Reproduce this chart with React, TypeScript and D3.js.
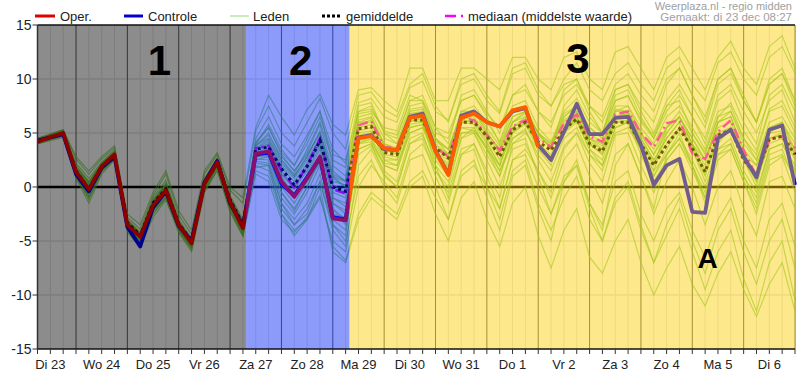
import React from 'react';
import * as d3 from 'd3';

const W = 800;
const H = 384;
const M = { left: 37.5, right: 795, top: 25, bottom: 349 };

// x axis: 6-hourly steps from Di 23 06:00 (index 0) to Wo 7 00:00 (index 59)
const dayLabels = ['Di 23', 'Wo 24', 'Do 25', 'Vr 26', 'Za 27', 'Zo 28', 'Ma 29', 'Di 30', 'Wo 31', 'Do 1', 'Vr 2', 'Za 3', 'Zo 4', 'Ma 5', 'Di 6'];
const yTicks = [15, 10, 5, 0, -5, -10, -15];
const regionBounds = [0, 16.25, 24.3, 59];
const regionNames = ['1', '2', '3'];

const oper = [4.2, 4.6, 5.0, 1.4, -0.2, 1.9, 3.0, -3.5, -4.6, -1.7, -0.3, -3.5, -5.2, 0.3, 2.3, -1.4, -3.8,
  3.1, 3.3, 0.5, -0.9, 0.8, 2.8, -2.9, -3.1,
  4.5, 4.7, 3.6, 3.4, 6.4, 6.6, 3.3, 1.1, 6.4, 6.8, 6.0, 5.6, 7.1, 7.4, 3.7];

const controle = [4.3, 4.6, 4.9, 1.2, -0.4, 1.8, 2.8, -3.7, -5.5, -1.9, -0.4, -3.6, -5.0, 0.4, 2.4, -1.5, -3.6,
  3.0, 3.2, 0.3, -0.8, 0.9, 2.7, -2.8, -3.0,
  4.6, 4.8, 3.5, 3.4, 6.5, 6.8, 3.4, 1.2, 6.6, 7.0, 6.0, 5.6, 7.0, 7.3, 3.9, 2.5, 5.1, 7.7, 4.9, 4.9, 6.4, 6.5, 3.9, 0.2, 2.0, 2.6, -2.3, -2.4, 4.5, 5.3, 2.8, 0.9, 5.3, 5.7, 0.2];

const gemiddelde = [4.2, 4.6, 4.9, 1.5, -0.2, 1.9, 2.9, -3.3, -4.5, -1.5, -0.2, -3.4, -5.0, 0.3, 2.2, -1.2, -3.5,
  3.5, 3.7, 1.7, 0.2, 1.9, 4.3, 0.0, -0.4,
  5.4, 5.6, 3.2, 3.0, 6.2, 6.2, 3.6, 2.7, 6.0, 6.0, 4.7, 2.8, 5.3, 6.0, 4.2, 3.4, 5.3, 6.3, 4.0, 3.3, 6.0, 6.0, 4.0, 2.0, 3.9, 5.4, 3.6, 1.4, 4.8, 5.3, 2.5, 1.1, 4.4, 4.7, 3.0];

const mediaan = [4.2, 4.6, 5.0, 1.4, -0.3, 1.9, 3.0, -3.4, -4.6, -1.6, -0.3, -3.5, -5.1, 0.3, 2.3, -1.3, -3.6,
  3.6, 3.8, 1.5, 0.0, 2.0, 4.5, -0.2, -0.6,
  5.7, 6.1, 3.7, 3.6, 6.4, 6.6, 3.7, 2.8, 6.4, 6.2, 4.8, 3.4, 5.6, 6.2, 4.5, 3.7, 5.9, 6.7, 4.7, 4.2, 6.7, 7.0, 5.0, 3.7, 5.9, 6.2, 3.1, 2.6, 5.1, 6.2, 3.4, 1.0, 4.4, 4.7, 3.6];

const leden: number[][] = [
  [4.3, 4.7, 5.1, 1.6, 0.2, 2.0, 3.2, -3.2, -4.4, -1.5, 0.0, -3.3, -5.0, 0.5, 2.5, -1.2, -3.5, 3.4, 4.0, 1.2, 0.0, 1.8, 4.2, 0.5, 0.2, 6.0, 6.4, 4.0, 3.6, 7.2, 7.4, 4.5, 3.0, 7.0, 7.5, 6.0, 4.2, 7.5, 8.0, 5.5, 4.2, 7.0, 8.2, 6.0, 5.0, 8.0, 8.4, 6.2, 4.8, 7.5, 8.0, 5.0, 3.2, 6.5, 7.8, 5.2, 3.4, 7.2, 8.0, 5.5],
  [4.0, 4.4, 4.8, 1.2, -0.6, 1.7, 2.8, -3.7, -4.9, -2.0, -0.6, -3.8, -5.5, 0.0, 2.0, -1.7, -4.1, 2.8, 3.0, -0.5, -2.2, 0.0, 2.5, -2.0, -3.0, 4.2, 4.4, 2.0, 1.5, 5.5, 5.8, 2.8, 1.2, 5.0, 5.2, 3.5, 1.0, 4.5, 5.4, 2.5, 0.5, 3.8, 5.0, 2.2, 0.5, 4.8, 5.0, 2.0, -0.5, 2.5, 4.0, 1.5, -1.0, 3.0, 3.5, 0.5, -2.0, 2.5, 3.0, 0.8],
  [4.4, 4.8, 5.2, 2.2, 0.8, 2.3, 3.4, -3.0, -4.2, -1.0, 0.6, -3.0, -4.8, 0.8, 2.7, -0.8, -3.0, 4.2, 5.5, 3.0, 1.5, 3.2, 5.8, 1.5, 0.5, 7.5, 7.8, 5.0, 4.0, 6.8, 6.0, 2.0, -1.0, 3.0, 3.5, 0.0, -3.0, 1.5, 2.5, -1.5, -4.0, -1.0, 1.0, -3.0, -5.0, -1.5, 0.0, -4.0, -7.0, -3.5, -1.0, -5.0, -8.0, -4.0, -2.0, -6.0, -9.0, -5.0, -3.0, -7.5],
  [4.1, 4.5, 5.0, 1.8, 0.5, 2.1, 3.1, -3.3, -4.5, -1.2, 0.3, -3.4, -5.1, 0.4, 2.4, -1.0, -3.2, 4.5, 6.5, 4.0, 2.8, 4.8, 7.0, 3.5, 2.2, 7.8, 8.2, 6.5, 6.0, 9.2, 9.8, 7.0, 6.2, 9.5, 10.0, 8.0, 6.8, 10.5, 11.0, 8.5, 7.5, 10.0, 11.5, 9.0, 8.0, 10.5, 11.5, 9.5, 8.0, 11.0, 12.0, 9.5, 8.0, 11.5, 12.5, 10.0, 8.5, 12.0, 13.0, 10.5],
  [4.2, 4.6, 4.9, 1.0, -1.0, 1.5, 2.6, -3.9, -5.2, -2.4, -1.0, -4.0, -5.7, -0.3, 1.8, -2.0, -4.4, 2.0, 1.5, -2.0, -3.5, -2.0, 0.5, -4.0, -5.5, 2.0, 3.5, 1.0, 0.0, 4.0, 4.8, 2.0, 0.5, 4.5, 5.0, 3.0, 1.0, 5.0, 5.8, 3.5, 2.0, 6.0, 7.0, 4.5, 3.5, 7.2, 7.0, 4.0, 2.0, 5.5, 6.5, 4.0, 2.5, 6.0, 6.5, 3.0, 0.5, 4.0, 4.5, 1.5],
  [4.3, 4.7, 5.0, 1.3, -0.3, 1.9, 3.1, -3.4, -4.5, -1.6, -0.2, -3.4, -5.1, 0.3, 2.3, -1.3, -3.7, 3.6, 4.2, 2.0, 0.8, 2.5, 4.6, 0.8, 0.0, 5.8, 6.2, 3.8, 3.5, 6.8, 7.0, 4.2, 3.5, 6.8, 7.0, 5.2, 3.2, 6.0, 6.8, 4.5, 3.8, 6.2, 7.0, 4.5, 3.8, 6.5, 6.5, 4.5, 2.5, 4.5, 6.0, 4.0, 1.5, 5.0, 5.5, 2.5, 1.0, 4.5, 4.8, 3.0],
  [4.0, 4.3, 4.6, 0.8, -1.5, 1.2, 2.5, -4.2, -5.6, -2.8, -1.2, -4.2, -6.0, -0.5, 1.5, -2.3, -4.6, 1.2, 0.5, -3.0, -4.2, -2.8, -0.8, -5.5, -6.8, -2.5, -0.5, -1.5, -2.5, 0.5, 1.5, -1.0, -3.0, 1.0, 2.0, 0.0, -2.0, 2.5, 3.5, 1.5, -0.5, 3.5, 5.0, 3.0, 1.5, 5.5, 6.0, 3.5, 1.5, 5.0, 6.5, 4.0, 2.0, 6.0, 7.0, 4.5, 3.0, 7.0, 7.5, 5.0],
  [4.5, 4.9, 5.3, 2.6, 1.2, 2.6, 3.6, -2.8, -3.9, -0.8, 1.2, -2.6, -4.4, 1.2, 3.0, -0.3, -1.5, 5.2, 7.5, 5.0, 3.8, 6.0, 8.2, 5.0, 3.5, 8.5, 8.8, 7.2, 6.5, 9.5, 10.5, 7.5, 6.0, 10.0, 10.5, 8.5, 7.0, 11.0, 11.5, 9.0, 7.5, 9.5, 10.0, 7.0, 5.0, 8.5, 9.0, 6.5, 4.5, 7.5, 9.0, 6.5, 4.0, 8.0, 9.0, 6.0, 4.0, 8.5, 9.5, 7.0],
  [4.2, 4.6, 5.0, 1.4, -0.1, 2.0, 3.0, -3.5, -4.7, -1.8, -0.4, -3.6, -5.3, 0.2, 2.2, -1.5, -3.9, 3.2, 3.6, 1.2, -0.2, 1.5, 3.8, -1.0, -1.8, 5.0, 5.2, 2.5, 2.5, 6.0, 6.5, 3.0, 2.2, 6.0, 5.8, 4.0, 2.0, 5.0, 6.0, 3.8, 2.8, 5.5, 6.2, 3.5, 2.5, 6.0, 6.0, 3.0, 0.5, 2.5, 4.0, 2.0, -1.5, 2.5, 3.5, 0.5, -2.5, 2.0, 2.8, -0.5],
  [4.4, 4.8, 5.2, 2.0, 0.5, 2.2, 3.3, -3.1, -4.3, -1.3, 0.2, -3.2, -4.9, 0.6, 2.6, -1.0, -3.3, 3.8, 5.0, 2.5, 1.2, 3.5, 6.0, 2.5, 1.8, 6.8, 7.0, 5.5, 5.2, 8.5, 8.0, 5.0, 4.5, 8.0, 8.5, 6.5, 4.0, 7.0, 7.5, 5.0, 3.5, 6.5, 7.5, 5.5, 4.5, 8.0, 8.5, 6.0, 4.5, 7.0, 8.5, 6.5, 4.5, 8.5, 9.5, 7.0, 5.0, 8.0, 9.0, 6.0],
  [4.1, 4.5, 4.9, 1.2, -0.5, 1.7, 2.9, -3.7, -4.8, -1.9, -0.5, -3.7, -5.4, 0.1, 2.1, -1.6, -4.0, 2.6, 2.5, -1.0, -2.5, -0.5, 2.0, -3.0, -4.0, 3.0, 3.8, 1.5, 0.5, 4.5, 5.0, 1.5, -0.5, 3.5, 4.0, 1.0, -2.0, 2.5, 3.0, 0.0, -2.5, 1.0, 2.0, -1.5, -3.5, 0.5, 1.5, -2.5, -5.0, -2.0, -0.5, -4.0, -6.5, -3.0, -1.0, -5.0, -7.5, -3.0, -1.5, -5.5],
  [4.3, 4.7, 5.1, 1.5, 0.0, 2.0, 3.1, -3.4, -4.6, -1.6, -0.1, -3.4, -5.1, 0.4, 2.4, -1.3, -3.6, 3.5, 4.0, 1.8, 0.5, 2.2, 4.5, 0.2, -0.5, 5.5, 5.8, 3.5, 3.2, 6.5, 6.5, 3.8, 3.0, 6.5, 6.2, 4.8, 3.0, 5.5, 6.5, 4.8, 3.8, 5.8, 6.5, 4.2, 3.5, 6.5, 6.8, 4.8, 3.0, 5.0, 6.5, 4.5, 2.5, 5.5, 6.0, 3.0, 2.0, 5.0, 5.2, 3.5],
  [4.2, 4.5, 4.9, 1.1, -0.8, 1.6, 2.7, -3.8, -5.0, -2.1, -0.8, -3.9, -5.6, -0.1, 1.9, -1.8, -4.2, 2.4, 2.2, -1.5, -3.0, -1.5, 1.2, -3.5, -4.5, 3.5, 4.0, 1.2, 0.0, 4.0, 4.5, 1.0, -1.5, 3.0, 4.0, 1.5, -1.0, 4.0, 4.5, 1.0, -2.5, 0.5, 2.0, -2.0, -5.0, -1.0, 0.5, -3.5, -7.0, -4.5, -2.0, -6.0, -9.5, -6.0, -4.0, -8.5, -11.5, -7.0, -5.0, -10.5],
  [4.3, 4.7, 5.1, 1.7, 0.3, 2.1, 3.2, -3.2, -4.3, -1.4, 0.1, -3.3, -5.0, 0.5, 2.4, -1.1, -3.4, 4.0, 5.8, 3.5, 2.0, 4.0, 6.5, 3.0, 2.5, 7.0, 7.5, 5.0, 4.5, 8.0, 8.5, 5.5, 4.0, 8.5, 9.0, 7.0, 5.0, 8.5, 9.5, 7.0, 5.5, 9.0, 10.0, 7.5, 6.0, 9.0, 9.5, 7.0, 5.0, 8.0, 9.5, 7.5, 5.5, 9.5, 10.5, 8.0, 6.0, 10.0, 11.0, 8.0],
  [4.2, 4.6, 5.0, 1.4, -0.2, 1.9, 3.0, -3.5, -4.6, -1.7, -0.3, -3.5, -5.2, 0.3, 2.3, -1.4, -3.8, 3.0, 3.3, 0.8, -0.6, 1.0, 3.0, -2.5, -2.8, 4.8, 5.0, 3.8, 3.6, 6.5, 6.8, 3.5, 1.5, 6.5, 7.0, 6.2, 5.5, 7.0, 7.2, 4.0, 2.5, 5.0, 6.5, 4.0, 3.0, 6.5, 6.5, 3.5, 1.0, 3.5, 5.5, 3.5, 1.0, 4.5, 5.5, 2.5, 0.5, 4.5, 5.0, 2.5],
  [4.0, 4.4, 4.7, 1.0, -1.2, 1.4, 2.6, -4.0, -5.4, -2.5, -1.0, -4.1, -5.8, -0.4, 1.6, -2.2, -4.5, 1.5, 1.0, -2.5, -4.0, -3.0, -1.0, -5.0, -6.0, 0.0, 2.0, 0.5, -1.0, 3.0, 4.0, 1.5, 0.0, 4.5, 5.5, 3.5, 2.0, 6.0, 7.0, 5.0, 3.5, 7.5, 9.0, 6.5, 5.0, 9.0, 9.5, 7.5, 6.0, 9.5, 11.0, 8.5, 6.5, 10.0, 11.0, 8.5, 6.0, 9.5, 10.5, 8.0],
  [4.4, 4.8, 5.1, 1.6, 0.1, 2.1, 3.2, -3.3, -4.4, -1.4, 0.2, -3.3, -5.0, 0.5, 2.5, -1.2, -3.5, 3.8, 4.8, 2.8, 1.5, 3.0, 5.0, 1.0, 0.0, 6.5, 6.8, 4.5, 4.0, 7.5, 7.8, 4.5, 3.5, 6.5, 7.0, 5.0, 3.5, 6.0, 6.5, 4.0, 2.5, 5.0, 6.0, 3.5, 2.0, 5.5, 6.0, 3.5, 1.0, 3.0, 4.5, 2.0, -0.5, 3.5, 4.0, 1.0, -1.5, 3.0, 3.5, 0.5],
  [4.1, 4.5, 4.8, 1.3, -0.4, 1.8, 2.9, -3.6, -4.7, -1.8, -0.4, -3.6, -5.3, 0.2, 2.2, -1.5, -3.9, 2.8, 2.8, 0.0, -1.5, 0.5, 2.2, -1.5, -2.2, 4.0, 4.5, 2.5, 2.0, 5.0, 5.5, 3.0, 2.0, 5.5, 5.5, 3.5, 1.5, 4.0, 5.0, 3.5, 2.5, 5.5, 6.5, 4.5, 4.0, 7.0, 7.5, 5.5, 4.0, 6.5, 7.5, 5.5, 3.5, 7.0, 7.5, 4.5, 2.5, 5.5, 6.0, 3.5],
  [4.3, 4.6, 5.0, 1.5, -0.1, 1.9, 3.1, -3.4, -4.5, -1.6, -0.2, -3.5, -5.1, 0.3, 2.3, -1.4, -3.7, 2.2, 2.0, -2.5, -4.5, -3.0, 0.0, -6.0, -7.0, -3.0, -1.0, -2.0, -3.0, 0.0, 1.0, -2.5, -5.0, -1.0, 0.5, -3.0, -5.5, -1.5, 0.0, -4.5, -7.5, -4.0, -2.0, -6.5, -8.0, -5.0, -3.0, -7.0, -10.0, -7.5, -5.5, -9.0, -11.0, -8.0, -6.0, -9.5, -12.0, -9.0, -7.0, -11.5],
  [4.2, 4.6, 5.0, 1.4, -0.2, 1.9, 3.0, -3.5, -4.6, -1.7, -0.3, -3.5, -5.2, 0.3, 2.3, -1.4, -3.8, 3.3, 3.8, 1.5, 0.0, 2.0, 4.0, -0.5, -1.0, 5.2, 5.5, 3.0, 2.8, 6.2, 6.0, 3.5, 2.8, 6.2, 6.0, 4.5, 2.5, 5.2, 6.0, 4.0, 3.0, 5.2, 6.2, 4.0, 3.2, 6.0, 6.2, 4.2, 2.2, 4.0, 5.5, 3.8, 1.2, 4.5, 5.2, 2.5, 1.2, 4.5, 4.8, 3.2],
  [4.5, 4.9, 5.3, 2.8, 1.5, 2.8, 3.8, -2.5, -3.5, -0.5, 1.5, -2.2, -4.0, 1.5, 3.2, 0.0, -1.0, 5.5, 8.5, 6.5, 4.8, 7.2, 8.6, 5.8, 4.8, 9.0, 9.2, 8.0, 7.0, 11.0, 11.0, 8.0, 8.0, 11.0, 11.0, 10.0, 9.0, 12.0, 12.0, 10.0, 9.0, 12.0, 12.5, 10.0, 9.0, 12.5, 13.0, 11.0, 9.0, 12.0, 13.0, 11.0, 9.0, 12.0, 13.5, 11.0, 9.5, 13.0, 14.0, 11.0],
  [4.0, 4.4, 4.8, 1.2, -0.4, 1.7, 2.8, -3.6, -4.8, -1.9, -0.5, -3.7, -5.4, 0.1, 2.1, -1.6, -4.0, 2.5, 2.8, -0.5, -2.0, 0.0, 3.0, -1.5, -2.5, 3.5, 4.0, 2.0, 1.5, 5.0, 5.5, 2.5, 1.0, 5.0, 5.0, 2.5, 0.0, 3.5, 4.0, 1.5, -1.0, 2.5, 4.0, 1.0, -1.5, 3.0, 4.0, 1.0, -2.5, 0.5, 2.5, 0.0, -3.5, 0.0, 1.5, -2.0, -4.5, 0.5, 1.0, -2.0],
  [4.3, 4.7, 5.1, 1.6, 0.0, 2.0, 3.1, -3.4, -4.5, -1.5, -0.1, -3.4, -5.1, 0.4, 2.4, -1.2, -3.6, 4.0, 5.5, 3.2, 2.0, 4.5, 7.0, 2.0, 1.0, 7.0, 7.2, 5.2, 4.8, 8.0, 8.0, 5.5, 5.0, 8.0, 8.5, 6.8, 5.5, 8.5, 9.0, 7.0, 6.0, 8.5, 9.5, 7.5, 6.5, 9.5, 10.5, 8.5, 7.0, 10.0, 11.0, 8.5, 6.0, 10.0, 11.0, 8.0, 6.0, 9.5, 10.5, 7.5],
  [4.2, 4.6, 4.9, 1.3, -0.3, 1.8, 2.9, -3.5, -4.6, -1.7, -0.3, -3.5, -5.2, 0.2, 2.2, -1.4, -3.8, 3.0, 3.5, 1.0, -1.0, 1.2, 3.5, -1.0, -1.5, 4.5, 5.0, 2.8, 2.5, 5.8, 6.0, 3.2, 2.5, 6.0, 6.2, 4.2, 2.0, 5.5, 6.2, 3.8, 2.5, 5.5, 6.5, 4.0, 3.0, 6.5, 6.8, 4.5, 2.5, 4.5, 6.0, 3.5, 0.5, 3.5, 4.5, 1.5, -0.5, 3.5, 4.0, 1.5],
  [4.4, 4.8, 5.2, 1.9, 0.4, 2.2, 3.3, -3.2, -4.3, -1.3, 0.3, -3.2, -4.9, 0.6, 2.6, -1.0, -3.3, 3.9, 4.5, 2.5, 1.0, 2.8, 5.2, 1.0, 0.5, 6.2, 6.5, 4.0, 3.5, 7.0, 7.2, 4.5, 3.5, 7.0, 7.0, 5.5, 3.8, 6.5, 7.0, 5.0, 4.0, 6.5, 7.5, 5.5, 4.5, 7.5, 7.5, 5.0, 3.0, 5.5, 7.0, 5.0, 3.0, 6.5, 7.0, 4.0, 2.5, 6.0, 6.5, 4.5],
  [4.1, 4.5, 4.9, 1.0, -0.9, 1.5, 2.7, -3.8, -5.0, -2.2, -0.9, -3.9, -5.6, -0.2, 1.8, -1.9, -4.3, 1.8, 2.0, -1.5, -3.5, -2.5, 0.5, -3.5, -5.0, 1.0, 2.5, 0.0, -1.5, 2.5, 3.0, 0.0, -3.0, 1.5, 2.5, -1.0, -4.0, 1.0, 2.0, -2.0, -5.0, 0.5, 2.5, -1.5, -4.0, 2.0, 4.0, 1.0, -2.0, 3.0, 5.0, 2.0, -1.0, 4.0, 5.5, 2.5, 0.0, 5.0, 6.0, 3.0],
  [4.3, 4.7, 5.0, 1.4, -0.1, 2.0, 3.0, -3.4, -4.6, -1.6, -0.2, -3.4, -5.1, 0.3, 2.3, -1.3, -3.7, 3.6, 4.4, 2.2, 1.0, 2.8, 5.0, 1.2, 0.6, 6.0, 6.0, 3.5, 3.0, 6.8, 6.8, 4.0, 3.0, 6.5, 6.5, 5.0, 3.5, 6.5, 7.0, 5.0, 4.0, 6.8, 7.5, 5.0, 4.0, 7.0, 7.0, 5.0, 3.5, 5.5, 6.5, 4.5, 2.5, 6.0, 6.5, 3.5, 2.0, 5.5, 6.0, 4.0],
  [4.2, 4.5, 4.9, 1.3, -0.3, 1.8, 2.9, -3.6, -4.7, -1.8, -0.4, -3.6, -5.3, 0.2, 2.2, -1.5, -3.9, 2.9, 3.0, 0.5, -1.0, 0.8, 2.6, -2.0, -3.5, 4.0, 4.2, 2.2, 2.0, 5.5, 5.8, 3.0, 1.8, 5.5, 5.2, 3.8, 1.5, 4.5, 5.2, 3.0, 1.5, 4.5, 5.5, 3.0, 2.0, 5.0, 5.5, 3.5, 1.5, 3.0, 4.5, 2.5, 0.0, 3.0, 4.0, 1.0, -1.0, 3.5, 4.0, 2.0],
];

const FONT = 'Liberation Sans, Arial, Helvetica, sans-serif';

export default function App() {
  const x = d3.scaleLinear().domain([0, 59]).range([M.left, M.right]);
  const y = d3.scaleLinear().domain([-15, 15]).range([M.bottom, M.top]);
  const line = d3.line<number>().x((_, i) => x(i)).y((d) => y(d));
  const steps = d3.range(0, 60);
  const regionFill = ['rgb(0,0,0)', 'rgb(0,33,244)', 'rgb(251,207,0)'];
  const labelPos = [
    { i: 9.5, v: 10.4, size: 42 },
    { i: 20.5, v: 10.4, size: 42 },
    { i: 42.1, v: 10.6, size: 42 },
    { i: 52.2, v: -7.5, size: 28 },
  ];
  const labelTexts = [...regionNames, 'A'];

  return (
    <svg width={W} height={H} style={{ position: 'absolute', left: 0, top: 0, background: '#fff' }} fontFamily={FONT}>
      <rect x={0} y={0} width={W} height={H} fill="#fff" />
      {/* horizontal grid */}
      {yTicks.filter((t) => t !== 0 && Math.abs(t) !== 15).map((t) => (
        <line key={'h' + t} x1={M.left} x2={M.right} y1={y(t)} y2={y(t)} stroke="rgb(215,215,215)" strokeWidth={1} />
      ))}
      {/* vertical grid */}
      {steps.map((i) => (
        <line key={'v' + i} x1={x(i)} x2={x(i)} y1={M.top} y2={M.bottom}
          stroke={(i - 3) % 4 === 0 ? 'rgb(95,95,95)' : 'rgb(228,228,228)'} strokeWidth={1} />
      ))}
      {/* zero line */}
      <line x1={M.left} x2={M.right} y1={y(0)} y2={y(0)} stroke="#000" strokeWidth={2.5} />
      {/* ensemble members */}
      {leden.map((m, k) => (
        <path key={'m' + k} d={line(m) || ''} fill="none" stroke="rgb(95,195,50)" strokeOpacity={0.6} strokeWidth={1.2} />
      ))}
      <path d={line(mediaan) || ''} fill="none" stroke="#ff00ff" strokeWidth={2.5} strokeDasharray="10,4,2,4" />
      <path d={line(gemiddelde) || ''} fill="none" stroke="#000" strokeWidth={3} strokeDasharray="3,3" />
      <path d={line(controle) || ''} fill="none" stroke="#0000ff" strokeWidth={3.8} strokeLinejoin="round" />
      <path d={line(oper) || ''} fill="none" stroke="#ff0000" strokeWidth={3.8} strokeLinejoin="round" />
      {/* region overlays */}
      {regionFill.map((c, k) => (
        <rect key={'r' + k} x={x(regionBounds[k])} y={M.top} width={x(regionBounds[k + 1]) - x(regionBounds[k])}
          height={M.bottom - M.top} fill={c} fillOpacity={0.45} />
      ))}
      {/* frame */}
      <line x1={M.left} x2={M.right} y1={M.top} y2={M.top} stroke="#111" strokeWidth={1.5} />
      <line x1={M.left} x2={M.right} y1={M.bottom} y2={M.bottom} stroke="#111" strokeWidth={1.5} />
      <line x1={M.left} x2={M.left} y1={M.top} y2={M.bottom} stroke="#333" strokeWidth={1.5} />
      {/* y axis */}
      {yTicks.map((t) => (
        <g key={'yt' + t}>
          <line x1={M.left - 5} x2={M.left} y1={y(t)} y2={y(t)} stroke="#333" />
          <text x={M.left - 6} y={y(t)} dy="0.35em" textAnchor="end" fontSize={14} fill="#222">{t}</text>
        </g>
      ))}
      {/* x axis */}
      {steps.map((i) => (
        <line key={'xt' + i} x1={x(i)} x2={x(i)} y1={M.bottom} y2={M.bottom + 5} stroke="#333" />
      ))}
      {dayLabels.map((d, k) => (
        <text key={'xl' + k} x={x(1 + 4 * k)} y={369} textAnchor="middle" fontSize={13} fill="#222">{d}</text>
      ))}
      {/* big labels */}
      {labelPos.map((p, k) => (
        <text key={'bl' + k} x={x(p.i)} y={y(p.v)} textAnchor="middle" fontSize={p.size} fontWeight="bold" fill="#000">{labelTexts[k]}</text>
      ))}
      {/* legend */}
      <g fontSize={13} fill="#222">
        <line x1={35} x2={55} y1={16} y2={16} stroke="#e00000" strokeWidth={3} />
        <text x={60} y={20.5}>Oper.</text>
        <line x1={124} x2={143} y1={16} y2={16} stroke="#0000d0" strokeWidth={3} />
        <text x={148} y={20.5}>Controle</text>
        <line x1={230} x2={249} y1={16} y2={16} stroke="rgb(100,200,60)" strokeOpacity={0.45} strokeWidth={1.5} />
        <text x={253} y={20.5}>Leden</text>
        <line x1={322} x2={341} y1={16} y2={16} stroke="#000" strokeWidth={3} strokeDasharray="3,2" />
        <text x={346} y={20.5}>gemiddelde</text>
        <line x1={445} x2={464} y1={16} y2={16} stroke="#ff00ff" strokeWidth={2.5} strokeDasharray="11,5,2,5" />
        <text x={468} y={20.5}>mediaan (middelste waarde)</text>
      </g>
      <text x={792} y={9.5} textAnchor="end" fontSize={11} fill="#a0a0a0">Weerplaza.nl - regio midden</text>
      <text x={792} y={21} textAnchor="end" fontSize={11.5} fill="#a0a0a0">Gemaakt: di 23 dec 08:27</text>
    </svg>
  );
}
